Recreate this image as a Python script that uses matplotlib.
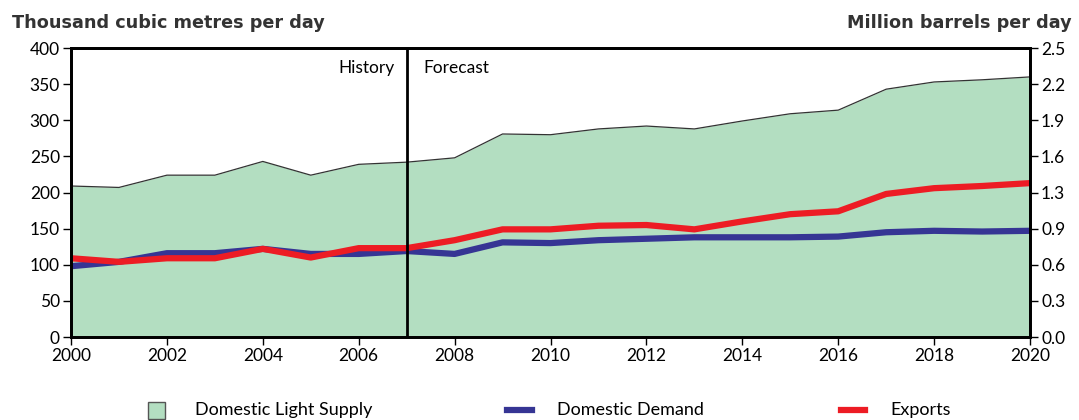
import numpy as np
import matplotlib.pyplot as plt
from matplotlib.patches import Rectangle
from matplotlib.lines import Line2D

plt.rcParams['font.family'] = ['Lato', 'DejaVu Sans']

# datos (miles de m3/dia)
years = list(range(2000, 2021))
supply = [209, 207, 224, 224, 243, 224, 239, 242, 248, 281, 280,
          288, 292, 288, 299, 309, 314, 343, 353, 356, 360]
demand = [98, 104, 116, 116, 122, 115, 115, 119, 115, 131, 130,
          134, 136, 138, 138, 138, 139, 145, 147, 146, 147]
exports = [109, 104, 109, 109, 122, 110, 123, 123, 134, 149, 149,
           154, 155, 149, 160, 170, 174, 198, 206, 209, 213]

left_ticks = [0, 50, 100, 150, 200, 250, 300, 350, 400]
right_labels = ['0.0', '0.3', '0.6', '0.9', '1.3', '1.6', '1.9', '2.2', '2.5']
x_ticks = list(range(2000, 2021, 2))

green = '#b3dec1'
blue = '#363594'
red = '#ed1c24'

W, H = 1079, 420
fig = plt.figure(figsize=(W / 100, H / 100), dpi=100)
ax = fig.add_axes([0.0658, 0.1976, 0.8888, 0.6881])

ax.fill_between(years, 0, supply, color=green, lw=0)
ax.plot(years, supply, color='#333333', lw=0.9)
ax.plot(years, demand, color=blue, lw=4.5, solid_capstyle='butt')
ax.plot(years, exports, color=red, lw=4.5, solid_capstyle='butt')

ax.axvline(2007, color='black', lw=2)
ax.text(2006.75, 372, 'History', ha='right', va='center', fontsize=12.5)
ax.text(2007.35, 372, 'Forecast', ha='left', va='center', fontsize=12.5)

ax.set_xlim(2000, 2020)
ax.set_ylim(0, 400)
ax.set_xticks(x_ticks)
ax.set_yticks(left_ticks)
for s in ax.spines.values():
    s.set_linewidth(2)
ax.tick_params(direction='out', length=6, width=1, labelsize=12.5, pad=2)

ax2 = ax.twinx()
ax2.set_ylim(0, 400)
ax2.set_yticks(left_ticks)
ax2.set_yticklabels(right_labels)
ax2.tick_params(direction='out', length=6, width=1, labelsize=12.5, pad=2)
for s in ax2.spines.values():
    s.set_linewidth(2)

fig.text(0.011, 0.945, 'Thousand cubic metres per day', fontsize=12.7,
         fontweight='bold', family='DejaVu Sans', color='#333333',
         va='center', ha='left')
fig.text(0.993, 0.945, 'Million barrels per day', fontsize=12.7,
         fontweight='bold', family='DejaVu Sans', color='#333333',
         va='center', ha='right')

# leyenda dibujada a mano (posiciones en pixeles)
ly = 1 - 410 / H
fig.patches.append(Rectangle((148 / W, 1 - 419 / H), 17 / W, 17 / H,
                             transform=fig.transFigure, facecolor=green,
                             edgecolor='#555555', lw=1))
fig.lines.append(Line2D([507 / W, 532 / W], [ly, ly], transform=fig.transFigure,
                        color=blue, lw=4.5))
fig.lines.append(Line2D([841 / W, 865 / W], [ly, ly], transform=fig.transFigure,
                        color=red, lw=4.5))
labels = ['Domestic Light Supply', 'Domestic Demand', 'Exports']
for lab, px in zip(labels, [195, 557, 890]):
    fig.text(px / W, ly, lab, fontsize=13, va='center', ha='left')

fig.savefig('out.png', dpi=100)
